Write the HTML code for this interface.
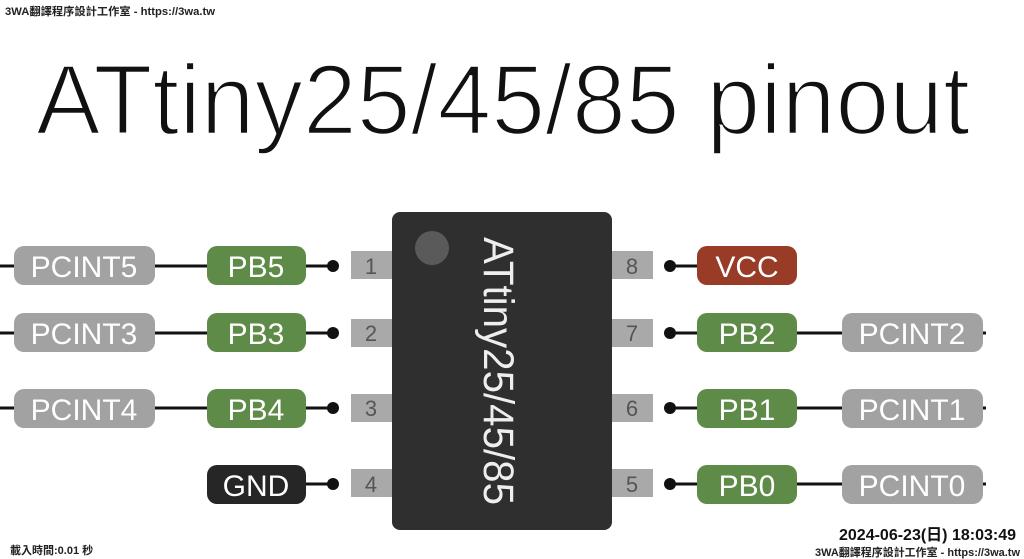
<!DOCTYPE html>
<html><head><meta charset="utf-8"><style>
html,body{margin:0;padding:0;background:#fff;width:1024px;height:559px;overflow:hidden}
svg{display:block}
text{font-family:"Liberation Sans","Noto Sans CJK TC",sans-serif}
</style></head><body>
<svg width="1024" height="559" viewBox="0 0 1024 559" xmlns="http://www.w3.org/2000/svg">
<rect width="1024" height="559" fill="#fff"/>
<text x="5" y="15" font-size="11" fill="#222" font-weight="bold" textLength="210" lengthAdjust="spacingAndGlyphs">3WA翻譯程序設計工作室 - https://3wa.tw</text>
<text x="36" y="134" font-size="99" fill="#111" stroke="#fff" stroke-width="2.5" paint-order="fill" textLength="934" lengthAdjust="spacingAndGlyphs">ATtiny25/45/85 pinout</text>

<!-- lines -->
<g stroke="#111" stroke-width="3">
<line x1="0" y1="266" x2="333" y2="266"/>
<line x1="0" y1="333" x2="333" y2="333"/>
<line x1="0" y1="408" x2="333" y2="408"/>
<line x1="300" y1="484" x2="333" y2="484"/>
<line x1="670" y1="266" x2="720" y2="266"/>
<line x1="670" y1="333" x2="986" y2="333"/>
<line x1="670" y1="408" x2="986" y2="408"/>
<line x1="670" y1="484" x2="986" y2="484"/>
</g>
<g fill="#111">
<circle cx="333" cy="266" r="6"/><circle cx="333" cy="333" r="6"/><circle cx="333" cy="408" r="6"/><circle cx="333" cy="484" r="6"/>
<circle cx="670" cy="266" r="6"/><circle cx="670" cy="333" r="6"/><circle cx="670" cy="408" r="6"/><circle cx="670" cy="484" r="6"/>
</g>

<!-- pin boxes -->
<g fill="#a9a9a9">
<rect x="351" y="251" width="42" height="28"/><rect x="351" y="319" width="42" height="28"/>
<rect x="351" y="394" width="42" height="28"/><rect x="351" y="469" width="42" height="28"/>
<rect x="611" y="251" width="42" height="28"/><rect x="611" y="319" width="42" height="28"/>
<rect x="611" y="394" width="42" height="28"/><rect x="611" y="469" width="42" height="28"/>
</g>
<g font-size="22" fill="#555" text-anchor="middle">
<text x="371" y="274">1</text><text x="371" y="341">2</text><text x="371" y="416">3</text><text x="371" y="492">4</text>
<text x="632" y="274">8</text><text x="632" y="341">7</text><text x="632" y="416">6</text><text x="632" y="492">5</text>
</g>

<!-- chip -->
<rect x="392" y="212" width="220" height="318" rx="8" fill="#2f2f2f"/>
<circle cx="432" cy="248" r="17" fill="#5a5a5a"/>
<text transform="translate(484,237) rotate(90)" font-size="43" fill="#eee" textLength="268" lengthAdjust="spacingAndGlyphs">ATtiny25/45/85</text>

<!-- pills -->
<g>
<rect x="14" y="246" width="141" height="39" rx="10" fill="#a2a2a2"/>
<rect x="14" y="313" width="141" height="39" rx="10" fill="#a2a2a2"/>
<rect x="14" y="389" width="141" height="39" rx="10" fill="#a2a2a2"/>
<rect x="207" y="246" width="99" height="39" rx="10" fill="#5f8b48"/>
<rect x="207" y="313" width="99" height="39" rx="10" fill="#5f8b48"/>
<rect x="207" y="389" width="99" height="39" rx="10" fill="#5f8b48"/>
<rect x="207" y="465" width="99" height="39" rx="10" fill="#262626"/>
<rect x="697" y="246" width="100" height="39" rx="10" fill="#983b27"/>
<rect x="697" y="313" width="100" height="39" rx="10" fill="#5f8b48"/>
<rect x="697" y="389" width="100" height="39" rx="10" fill="#5f8b48"/>
<rect x="697" y="465" width="100" height="39" rx="10" fill="#5f8b48"/>
<rect x="842" y="313" width="141" height="39" rx="10" fill="#a2a2a2"/>
<rect x="842" y="389" width="141" height="39" rx="10" fill="#a2a2a2"/>
<rect x="842" y="465" width="141" height="39" rx="10" fill="#a2a2a2"/>
</g>
<g font-size="30" fill="#fff" text-anchor="middle">
<text x="84" y="277">PCINT5</text><text x="84" y="344">PCINT3</text><text x="84" y="420">PCINT4</text>
<text x="256" y="277">PB5</text><text x="256" y="344">PB3</text><text x="256" y="420">PB4</text><text x="256" y="496">GND</text>
<text x="747" y="277">VCC</text><text x="747" y="344">PB2</text><text x="747" y="420">PB1</text><text x="747" y="496">PB0</text>
<text x="912" y="344">PCINT2</text><text x="912" y="420">PCINT1</text><text x="912" y="496">PCINT0</text>
</g>

<text x="10" y="554" font-size="11" fill="#222" font-weight="bold">載入時間:0.01 秒</text>
<text x="1016" y="540" font-size="16" fill="#111" font-weight="bold" text-anchor="end">2024-06-23(日) 18:03:49</text>
<text x="1020" y="556" font-size="11" fill="#222" font-weight="bold" text-anchor="end" textLength="205" lengthAdjust="spacingAndGlyphs">3WA翻譯程序設計工作室 - https://3wa.tw</text>
</svg>
</body></html>
